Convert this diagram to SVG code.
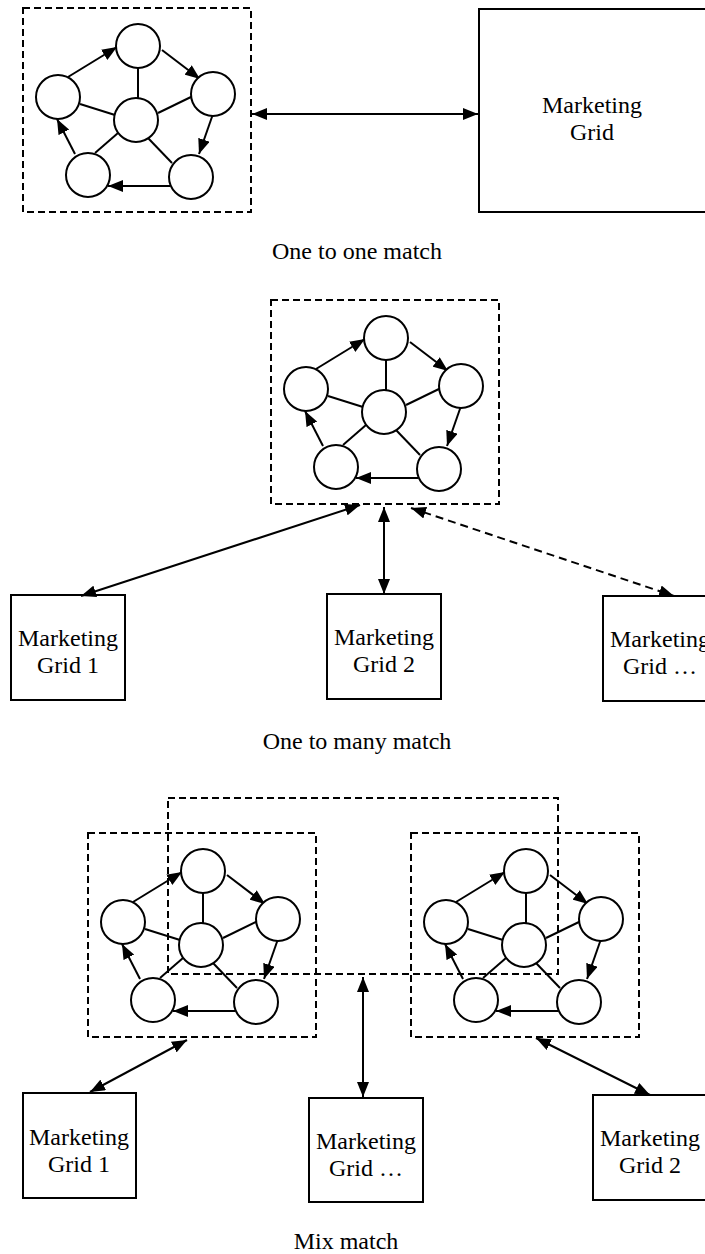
<svg xmlns="http://www.w3.org/2000/svg" xmlns:xlink="http://www.w3.org/1999/xlink" width="705" height="1254" viewBox="0 0 705 1254">
<style>
.dbox{fill:none;stroke:#000;stroke-width:2;stroke-dasharray:7,4}
.box{fill:#fff;stroke:#000;stroke-width:2}
.c{fill:#fff;stroke:#000;stroke-width:2}
.e{fill:none;stroke:#000;stroke-width:2}
.a{fill:none;stroke:#000;stroke-width:2;marker-end:url(#ah)}
.d{fill:none;stroke:#000;stroke-width:2;marker-start:url(#ah);marker-end:url(#ah)}
.dd{fill:none;stroke:#000;stroke-width:2;stroke-dasharray:8,5;marker-start:url(#ah);marker-end:url(#ah)}
text{font-family:"Liberation Serif","Times New Roman",serif;font-size:24px;fill:#000;text-anchor:middle}
</style>
<defs>
<marker id="ah" viewBox="0 0 15 12" refX="15" refY="6" markerWidth="15" markerHeight="12" markerUnits="userSpaceOnUse" orient="auto-start-reverse">
<path d="M0,0 L15,6 L0,12 z" fill="#000"/>
</marker>
<g id="cluster">
<rect class="dbox" x="23" y="8" width="228" height="204"/>
<line class="a" x1="68" y1="77" x2="117" y2="47"/>
<line class="a" x1="162" y1="50" x2="200" y2="79"/>
<line class="a" x1="213" y1="114" x2="199" y2="154"/>
<line class="a" x1="170" y1="186" x2="108" y2="186"/>
<line class="a" x1="75" y1="154" x2="57" y2="119"/>
<line class="e" x1="138" y1="68" x2="138" y2="98"/>
<line class="e" x1="80" y1="104" x2="115" y2="115"/>
<line class="e" x1="193" y1="96" x2="158" y2="113"/>
<line class="e" x1="95" y1="153" x2="118" y2="133"/>
<line class="e" x1="172" y1="163" x2="148" y2="138"/>
<circle class="c" cx="138" cy="46" r="22"/>
<circle class="c" cx="58" cy="97" r="22"/>
<circle class="c" cx="213" cy="94" r="22"/>
<circle class="c" cx="136" cy="120" r="22"/>
<circle class="c" cx="88" cy="175" r="22"/>
<circle class="c" cx="191" cy="177" r="22"/>
</g>
</defs>

<g id="cluster-one"><use href="#cluster" xlink:href="#cluster"/></g>
<g id="grid-single">
<rect class="box" x="479" y="9" width="228" height="203"/>
<text x="592" y="113">Marketing</text>
<text x="592" y="140">Grid</text>
</g>
<text id="label-one" x="357" y="259">One to one match</text>

<g id="cluster-many" transform="translate(248,292)"><use href="#cluster" xlink:href="#cluster"/></g>
<g id="many-grid1">
<rect class="box" x="11" y="595" width="114" height="105"/>
<text x="68" y="646">Marketing</text>
<text x="68" y="673">Grid 1</text>
</g>
<g id="many-grid2">
<rect class="box" x="327" y="594" width="114" height="105"/>
<text x="384" y="645">Marketing</text>
<text x="384" y="672">Grid 2</text>
</g>
<g id="many-gridn">
<rect class="box" x="603" y="596" width="114" height="105"/>
<text x="660" y="647">Marketing</text>
<text x="660" y="674">Grid …</text>
</g>
<text id="label-many" x="357" y="749">One to many match</text>

<g id="cluster-mix-left" transform="translate(65,825)"><use href="#cluster" xlink:href="#cluster"/></g>
<g id="cluster-mix-right" transform="translate(388,825)"><use href="#cluster" xlink:href="#cluster"/></g>
<g id="mix-group"><rect class="dbox" x="168" y="798" width="390" height="176"/></g>
<g id="mix-grid1">
<rect class="box" x="23" y="1093" width="113" height="105"/>
<text x="79" y="1145">Marketing</text>
<text x="79" y="1172">Grid 1</text>
</g>
<g id="mix-gridn">
<rect class="box" x="309" y="1098" width="114" height="104"/>
<text x="366" y="1149">Marketing</text>
<text x="366" y="1176">Grid …</text>
</g>
<g id="mix-grid2">
<rect class="box" x="593" y="1095" width="114" height="105"/>
<text x="650" y="1146">Marketing</text>
<text x="650" y="1173">Grid 2</text>
</g>
<text id="label-mix" x="346" y="1249">Mix match</text>

<g id="connectors">
<line class="d" x1="252" y1="114" x2="478" y2="114"/>
<line class="d" x1="360" y1="505" x2="81" y2="596"/>
<line class="d" x1="384" y1="507" x2="384" y2="594"/>
<line class="dd" x1="411" y1="508" x2="674" y2="596"/>
<line class="d" x1="187" y1="1040" x2="90" y2="1092"/>
<line class="d" x1="363" y1="977" x2="363" y2="1097"/>
<line class="d" x1="536" y1="1038" x2="650" y2="1095"/>
</g>
</svg>
